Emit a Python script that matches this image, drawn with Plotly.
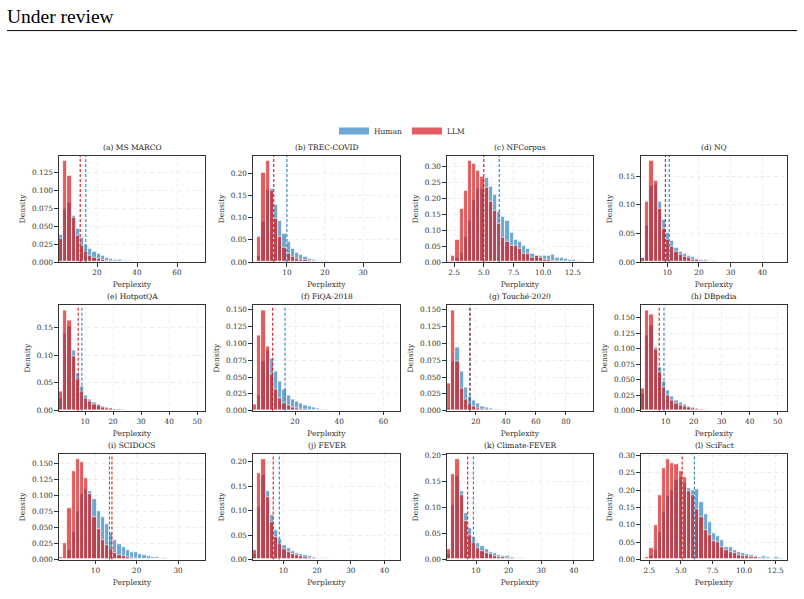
import plotly.graph_objects as go

# ---------------- data ----------------
titles = ["(a) MS MARCO", "(b) TREC-COVID", "(c) NFCorpus", "(d) NQ",
          "(e) HotpotQA", "(f) FiQA-2018", "(g) Touché-2020", "(h) DBpedia",
          "(i) SCIDOCS", "(j) FEVER", "(k) Climate-FEVER", "(l) SciFact"]

# histogram range (min, max) per dataset; 35 equal bins across it
x_ranges = [(1.0, 74.0), (1.1, 39.7), (1.9, 14.2), (1.7, 47.8),
            (0.7, 52.8), (1.0, 67.5), (0.8, 98.0), (1.2, 53.3),
            (1.2, 36.5), (1.0, 44.6), (1.1, 45.9), (1.84, 13.4)]
N_BINS = 35

human_msmarco = [0.038, 0.074, 0.082, 0.065, 0.046, 0.034, 0.024, 0.019, 0.014, 0.011, 0.0085, 0.0065, 0.005, 0.004, 0.003, 0.0025, 0.002, 0.0015, 0.001, 0.0008, 0.0006]
llm_msmarco = [0.033, 0.141, 0.120, 0.062, 0.037, 0.023, 0.0145, 0.0094, 0.0066, 0.0047, 0.003, 0.002, 0.0015, 0.001, 0.0008, 0.0006, 0.0004, 0.0003]

human_treccovid = [0, 0.015, 0.091, 0.162, 0.166, 0.130, 0.093, 0.064, 0.046, 0.029, 0.021, 0.016, 0.012, 0.008, 0.006, 0.004, 0.003, 0.002, 0.0015, 0.001, 0.0007]
llm_treccovid = [0, 0.057, 0.201, 0.228, 0.160, 0.097, 0.057, 0.033, 0.019, 0.012, 0.008, 0.006, 0.0045, 0.003, 0.002, 0.0015, 0.001, 0.0007, 0.0005, 0.0003]

human_nfcorpus = [0, 0.004, 0.013, 0.030, 0.081, 0.130, 0.197, 0.230, 0.230, 0.265, 0.236, 0.213, 0.160, 0.144, 0.131, 0.094, 0.070, 0.065, 0.052, 0.041, 0.025, 0.020, 0.020, 0.020, 0.021, 0.022, 0.015, 0.015, 0.012, 0.007, 0.009, 0.004, 0.003]
llm_nfcorpus = [0.004, 0.020, 0.070, 0.167, 0.225, 0.319, 0.310, 0.288, 0.270, 0.235, 0.190, 0.162, 0.122, 0.078, 0.065, 0.052, 0.052, 0.041, 0.027, 0.027, 0.015, 0.021, 0.013, 0.008, 0.008, 0.005, 0.003, 0.002, 0.001]

human_nq = [0.006, 0.063, 0.134, 0.136, 0.106, 0.074, 0.051, 0.037, 0.026, 0.019, 0.015, 0.0117, 0.009, 0.0065, 0.0045, 0.0035, 0.0025, 0.0017, 0.0012, 0.0008, 0.0005]
llm_nq = [0.008, 0.106, 0.177, 0.142, 0.094, 0.059, 0.0385, 0.027, 0.0175, 0.013, 0.0093, 0.007, 0.005, 0.0035, 0.0025, 0.002, 0.0015, 0.001, 0.0007, 0.0005]

human_hotpotqa = [0.023, 0.139, 0.152, 0.109, 0.067, 0.0435, 0.0285, 0.021, 0.0155, 0.0113, 0.0083, 0.006, 0.0045, 0.0032, 0.0024, 0.0017, 0.0012, 0.0008, 0.0005]
llm_hotpotqa = [0.035, 0.180, 0.162, 0.098, 0.057, 0.0345, 0.023, 0.0167, 0.012, 0.009, 0.0065, 0.005, 0.0035, 0.0025, 0.0018, 0.0012, 0.0008, 0.0005]

human_fiqa = [0.0025, 0.0225, 0.0735, 0.0897, 0.078, 0.059, 0.044, 0.031, 0.023, 0.017, 0.0137, 0.0103, 0.0078, 0.006, 0.0045, 0.0035, 0.0025, 0.0018, 0.0012, 0.0008, 0.0005]
llm_fiqa = [0.0098, 0.112, 0.1485, 0.0946, 0.054, 0.032, 0.0186, 0.0113, 0.0074, 0.005, 0.0034, 0.0025, 0.0018, 0.0013, 0.001, 0.0007, 0.0005, 0.0004, 0.0003]

human_touche = [0.004, 0.0735, 0.0936, 0.059, 0.035, 0.021, 0.0152, 0.0113, 0.006, 0.0044, 0.003, 0.002, 0.0015, 0.001, 0.0007]
llm_touche = [0.041, 0.1485, 0.0735, 0.0333, 0.017, 0.010, 0.0064, 0.004, 0.0025, 0.0015, 0.001, 0.0007, 0.0005, 0.0003]

human_dbpedia = [0.028, 0.122, 0.138, 0.102, 0.070, 0.047, 0.0337, 0.024, 0.017, 0.0128, 0.0096, 0.007, 0.005, 0.0036, 0.0025, 0.0018, 0.0012, 0.0008]
llm_dbpedia = [0.036, 0.162, 0.155, 0.0996, 0.0616, 0.0375, 0.025, 0.017, 0.0123, 0.009, 0.007, 0.005, 0.0036, 0.0026, 0.0018, 0.0012, 0.0008, 0.0005]

human_scidocs = [0.001, 0.0026, 0.015, 0.0435, 0.076, 0.102, 0.110, 0.107, 0.095, 0.076, 0.067, 0.055, 0.042, 0.031, 0.024, 0.019, 0.0145, 0.011, 0.011, 0.0085, 0.0065, 0.005, 0.004, 0.003, 0.0025, 0.0018, 0.0013, 0.001, 0.0007, 0.0005]
llm_scidocs = [0.003, 0.025, 0.080, 0.139, 0.157, 0.153, 0.127, 0.102, 0.066, 0.047, 0.031, 0.022, 0.016, 0.010, 0.007, 0.005, 0.0035, 0.0025, 0.0018, 0.0013, 0.001, 0.0007, 0.0005, 0.0004, 0.0003]

human_fever = [0.0115, 0.107, 0.173, 0.139, 0.091, 0.0606, 0.0418, 0.0296, 0.0229, 0.018, 0.014, 0.0108, 0.0083, 0.0063, 0.0048, 0.0036, 0.0027, 0.002, 0.0014, 0.001]
llm_fever = [0.020, 0.176, 0.205, 0.128, 0.0768, 0.045, 0.031, 0.0209, 0.0148, 0.0114, 0.0081, 0.006, 0.0045, 0.0034, 0.0025, 0.0018, 0.0013, 0.0009, 0.0006, 0.0004]

human_climatefever = [0.011, 0.104, 0.159, 0.130, 0.088, 0.061, 0.0435, 0.0315, 0.025, 0.019, 0.015, 0.012, 0.0093, 0.0072, 0.0056, 0.0043, 0.0033, 0.0025, 0.0019, 0.0014, 0.001]
llm_climatefever = [0.019, 0.164, 0.192, 0.124, 0.073, 0.047, 0.0315, 0.022, 0.0164, 0.012, 0.0095, 0.007, 0.0052, 0.0039, 0.003, 0.0022, 0.0016, 0.0012, 0.0009, 0.0006, 0.0004]

human_scifact = [0, 0.002, 0.011, 0.026, 0.078, 0.137, 0.183, 0.199, 0.230, 0.238, 0.221, 0.207, 0.200, 0.202, 0.166, 0.130, 0.107, 0.076, 0.066, 0.056, 0.037, 0.037, 0.027, 0.021, 0.019, 0.016, 0.0114, 0.0095, 0.0076, 0.0095, 0.0076, 0.004, 0.006, 0.004]
llm_scifact = [0, 0.006, 0.034, 0.100, 0.186, 0.262, 0.289, 0.278, 0.276, 0.255, 0.238, 0.197, 0.185, 0.145, 0.121, 0.086, 0.069, 0.053, 0.051, 0.037, 0.028, 0.021, 0.019, 0.013, 0.0095, 0.0095, 0.006, 0.0076, 0.004, 0.003, 0.002]

human_means = [14.4, 10.0, 6.3, 10.6, 8.85, 15.5, 16.2, 9.4, 13.4, 8.8, 9.2, 6.07]
llm_means = [11.6, 6.55, 5.0, 9.4, 7.55, 9.9, 16.0, 7.7, 14.0, 7.0, 7.45, 5.1]

x_dticks = [20, 10, 2.5, 10, 10, 20, 20, 10, 10, 10, 10, 2.5]
y_dticks = [0.025, 0.05, 0.05, 0.05, 0.05, 0.025, 0.025, 0.025, 0.025, 0.05, 0.05, 0.05]

human_all = [human_msmarco, human_treccovid, human_nfcorpus, human_nq, human_hotpotqa, human_fiqa,
             human_touche, human_dbpedia, human_scidocs, human_fever, human_climatefever, human_scifact]
llm_all = [llm_msmarco, llm_treccovid, llm_nfcorpus, llm_nq, llm_hotpotqa, llm_fiqa,
           llm_touche, llm_dbpedia, llm_scidocs, llm_fever, llm_climatefever, llm_scifact]

# ---------------- style ----------------
W, H = 804, 599
BLUE = "#3182bd"
RED = "#d7191c"
FONT = "DejaVu Serif"
TXT = "#333333"
col_px = [(59, 205), (253, 400), (447, 593), (641, 787)]
row_px = [(154, 262), (306, 413), (457, 564)]

fig = go.Figure()
layout = dict(
    width=W, height=H, margin=dict(l=0, r=0, t=0, b=0),
    paper_bgcolor="white", plot_bgcolor="white",
    barmode="overlay", bargap=0,
    font=dict(family=FONT, size=7.5, color=TXT),
    showlegend=True,
    legend=dict(orientation="h", x=0.5, xanchor="center", y=1 - 129 / H, yanchor="middle",
                font=dict(family=FONT, size=7.5, color=TXT), itemwidth=30,
                bgcolor="rgba(0,0,0,0)"),
)
shapes = []
annotations = []

for i in range(12):
    r, c = divmod(i, 4)
    n = i + 1
    sfx = "" if n == 1 else str(n)
    xa, ya = "x" + sfx, "y" + sfx
    lo, hi = x_ranges[i]
    w = (hi - lo) / N_BINS
    centers = [lo + (k + 0.5) * w for k in range(N_BINS)]
    hh, ll = human_all[i], llm_all[i]
    fig.add_trace(go.Bar(x=centers[:len(hh)], y=hh, width=w, name="Human",
                         marker=dict(color=BLUE, line=dict(color="white", width=0.8)),
                         opacity=0.7, xaxis=xa, yaxis=ya, showlegend=False))
    fig.add_trace(go.Bar(x=centers[:len(ll)], y=ll, width=w, name="LLM",
                         marker=dict(color=RED, line=dict(color="white", width=0.8)),
                         opacity=0.7, xaxis=xa, yaxis=ya, showlegend=False))
    ymax = max(max(hh), max(ll)) * 1.05
    x0, x1 = col_px[c]
    t, b = row_px[r]
    common = dict(showline=True, linecolor="#333333", linewidth=1.2, mirror=True,
                  ticks="outside", ticklen=3.5, tickwidth=0.8, tickcolor="#333333",
                  showgrid=True, gridcolor="#eeeeee", gridwidth=0.8, griddash="4px,3px",
                  zeroline=False, tickfont=dict(family=FONT, size=7.3, color=TXT))
    layout["xaxis" + sfx] = dict(
        domain=[x0 / W, x1 / W], anchor=ya, range=[lo, hi], dtick=x_dticks[i], tick0=0,
        tickformat=".1f" if x_dticks[i] < 5 else "d",
        title=dict(text="Perplexity", font=dict(family=FONT, size=7.5, color=TXT), standoff=5),
        **common)
    layout["yaxis" + sfx] = dict(
        domain=[1 - b / H, 1 - t / H], anchor=xa, range=[0, ymax], dtick=y_dticks[i], tick0=0,
        tickformat=".3f" if y_dticks[i] < 0.05 else ".2f",
        title=dict(text="Density", font=dict(family=FONT, size=7.5, color=TXT), standoff=5),
        **common)
    for m, col in ((human_means[i], BLUE), (llm_means[i], RED)):
        shapes.append(dict(type="line", xref=xa, yref=ya + " domain", x0=m, x1=m, y0=0, y1=1,
                           line=dict(color=col, width=1.1, dash="3px,2px")))
    annotations.append(dict(text=titles[i], xref="paper", yref="paper",
                            x=(x0 + x1) / 2 / W, y=1 - (t - 2) / H, xanchor="center", yanchor="bottom",
                            showarrow=False, font=dict(family=FONT, size=7.5, color="#222222")))

# legend entries
for nm, col in (("Human", "rgba(49,130,189,0.7)"), ("LLM", "rgba(215,25,28,0.7)")):
    fig.add_trace(go.Scatter(x=[None], y=[None], mode="lines", name=nm,
                             line=dict(color=col, width=7), xaxis="x", yaxis="y"))

# page header
annotations.append(dict(text="Under review", xref="paper", yref="paper", x=5 / W, y=1.0,
                        xanchor="left", yanchor="top", showarrow=False,
                        font=dict(family="Liberation Serif", size=19.5, color="black")))
shapes.append(dict(type="line", xref="paper", yref="paper", x0=7 / W, x1=797 / W,
                   y0=1 - 27 / H, y1=1 - 27 / H, line=dict(color="black", width=1)))

layout["shapes"] = shapes
layout["annotations"] = annotations
fig.update_layout(**layout)
fig.write_html("out.html")
